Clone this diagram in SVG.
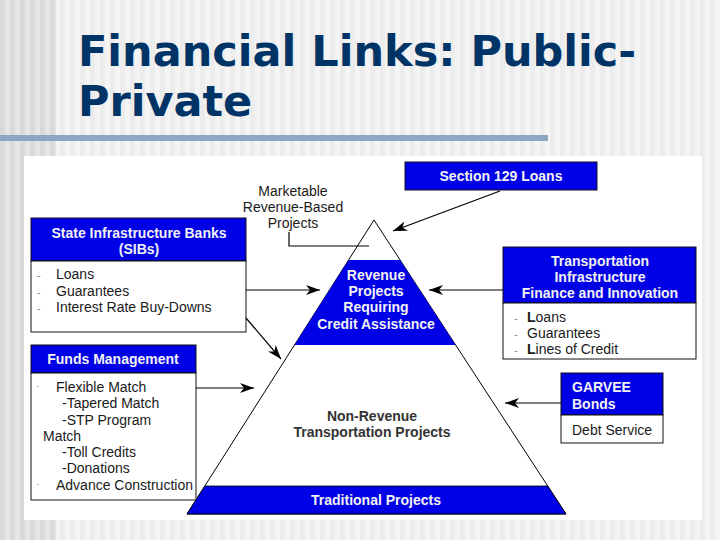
<svg xmlns="http://www.w3.org/2000/svg" width="720" height="540" viewBox="0 0 720 540">
<defs>
<pattern id="stripes" x="0" y="0" width="10" height="10" patternUnits="userSpaceOnUse">
<rect width="10" height="10" fill="#f4f4f4"/>
<rect width="5" height="10" fill="#ececec"/>
</pattern>
<pattern id="stripesDark" x="0" y="0" width="10" height="10" patternUnits="userSpaceOnUse">
<rect width="10" height="10" fill="#e6e6e6"/>
<rect width="5" height="10" fill="#d9d9d9"/>
</pattern>
<marker id="arr" markerUnits="userSpaceOnUse" markerWidth="14" markerHeight="10" refX="14" refY="5" orient="auto">
<path d="M0,0 L14,5 L0,10 L4,5 z" fill="#000"/>
</marker>
</defs>
<style>
.hdr{fill:#0000e6;stroke:#111;stroke-width:1}
.body{fill:#fff;stroke:#111;stroke-width:1}
.ht{font-family:"Liberation Sans",Arial,sans-serif;font-weight:bold;font-size:14px;fill:#f2f2f2}
.bt{font-family:"Liberation Sans",Arial,sans-serif;font-size:14px;fill:#1a1a1a}
.dash{font-family:"Liberation Sans",Arial,sans-serif;font-size:11px;fill:#888}
.con{stroke:#000;stroke-width:1.2;fill:none}
.title{font-family:"DejaVu Sans",Verdana,sans-serif;font-weight:bold;font-size:43px;fill:#003366}
</style>
<rect width="720" height="540" fill="url(#stripes)"/>
<rect width="56" height="540" fill="url(#stripesDark)"/>
<rect x="0" y="135" width="548" height="6" fill="#8da6c1"/>
<text class="title" x="78" y="66">Financial Links: Public-</text>
<text class="title" x="78" y="116">Private</text>
<rect x="24" y="156" width="678" height="364" fill="#fff"/>

<g id="pyramid">
<polygon points="374,220 566,514 187,514" fill="#fff" stroke="#000" stroke-width="1"/>
<polygon points="348.6,260 400,260 455.6,345 294.5,345" fill="#0000e6"/>
<polygon points="204.8,486 547.7,486 566,514 187,514" fill="#0000e6" stroke="#000" stroke-width="0.8"/>
<text class="ht" text-anchor="middle" font-size="13.5" x="376" y="280">Revenue</text>
<text class="ht" text-anchor="middle" font-size="13.5" x="376" y="296">Projects</text>
<text class="ht" text-anchor="middle" font-size="13.5" x="376" y="312">Requiring</text>
<text class="ht" text-anchor="middle" font-size="13.5" x="376" y="329">Credit Assistance</text>
<text x="372" y="421" text-anchor="middle" font-family="'Liberation Sans',Arial,sans-serif" font-weight="bold" font-size="14" fill="#333">Non-Revenue</text>
<text x="372" y="437" text-anchor="middle" font-family="'Liberation Sans',Arial,sans-serif" font-weight="bold" font-size="14" fill="#333">Transportation Projects</text>
<text class="ht" text-anchor="middle" x="376" y="505">Traditional Projects</text>
</g>

<g id="marketable">
<text class="bt" text-anchor="middle" font-size="13.5" x="293" y="196">Marketable</text>
<text class="bt" text-anchor="middle" font-size="13.5" x="293" y="212">Revenue-Based</text>
<text class="bt" text-anchor="middle" font-size="13.5" x="293" y="228">Projects</text>
</g>

<g id="section129">
<rect class="hdr" x="405" y="162" width="192" height="28"/>
<text class="ht" text-anchor="middle" x="501" y="181">Section 129 Loans</text>
</g>

<g id="sib">
<rect class="hdr" x="31" y="218" width="215" height="43"/>
<rect class="body" x="31" y="261" width="215" height="71"/>
<text class="ht" text-anchor="middle" x="139" y="238">State Infrastructure Banks</text>
<text class="ht" text-anchor="middle" x="139" y="254">(SIBs)</text>
<text class="dash" x="37" y="279">-</text>
<text class="dash" x="37" y="296">-</text>
<text class="dash" x="37" y="312">-</text>
<text class="bt" x="56" y="279">Loans</text>
<text class="bt" x="56" y="296">Guarantees</text>
<text class="bt" x="56" y="312">Interest Rate Buy-Downs</text>
</g>

<g id="tifi">
<rect class="hdr" x="503" y="247" width="193" height="56"/>
<rect class="body" x="503" y="303" width="193" height="56"/>
<text class="ht" text-anchor="middle" x="600" y="266">Transportation</text>
<text class="ht" text-anchor="middle" x="600" y="282">Infrastructure</text>
<text class="ht" text-anchor="middle" x="600" y="298">Finance and Innovation</text>
<text class="dash" x="514" y="322">-</text>
<text class="dash" x="514" y="338">-</text>
<text class="dash" x="514" y="354">-</text>
<text class="bt" x="527" y="322"><tspan font-weight="bold">L</tspan>oans</text>
<text class="bt" x="527" y="338">Guarantees</text>
<text class="bt" x="527" y="354"><tspan font-weight="bold">L</tspan>ines of Credit</text>
</g>

<g id="funds">
<rect class="hdr" x="31" y="345" width="165" height="28"/>
<rect class="body" x="31" y="373" width="165" height="127"/>
<text class="ht" text-anchor="middle" x="113" y="364">Funds Management</text>
<text class="dash" x="36" y="390">·</text>
<text class="bt" x="56" y="392">Flexible Match</text>
<text class="bt" x="62" y="408">-Tapered Match</text>
<text class="bt" x="62" y="425">-STP Program</text>
<text class="bt" x="43" y="441">Match</text>
<text class="bt" x="62" y="457">-Toll Credits</text>
<text class="bt" x="62" y="473">-Donations</text>
<text class="dash" x="36" y="488">·</text>
<text class="bt" x="56" y="490">Advance Construction</text>
</g>

<g id="garvee">
<rect class="hdr" x="561" y="373" width="102" height="42"/>
<rect class="body" x="561" y="415" width="102" height="28"/>
<text class="ht" x="572" y="392">GARVEE</text>
<text class="ht" x="572" y="409">Bonds</text>
<text class="bt" x="572" y="435">Debt Service</text>
</g>

<g id="connectors">
<line class="con" x1="500" y1="191" x2="393" y2="231" marker-end="url(#arr)"/>
<polyline class="con" points="289,232 289,246 369,246"/>
<line class="con" x1="246" y1="290" x2="320" y2="290" marker-end="url(#arr)"/>
<line class="con" x1="503" y1="290" x2="429" y2="290" marker-end="url(#arr)"/>
<line class="con" x1="246" y1="318" x2="281" y2="359" marker-end="url(#arr)"/>
<line class="con" x1="196" y1="388" x2="254" y2="388" marker-end="url(#arr)"/>
<line class="con" x1="561" y1="403" x2="505" y2="403" marker-end="url(#arr)"/>
</g>
</svg>
